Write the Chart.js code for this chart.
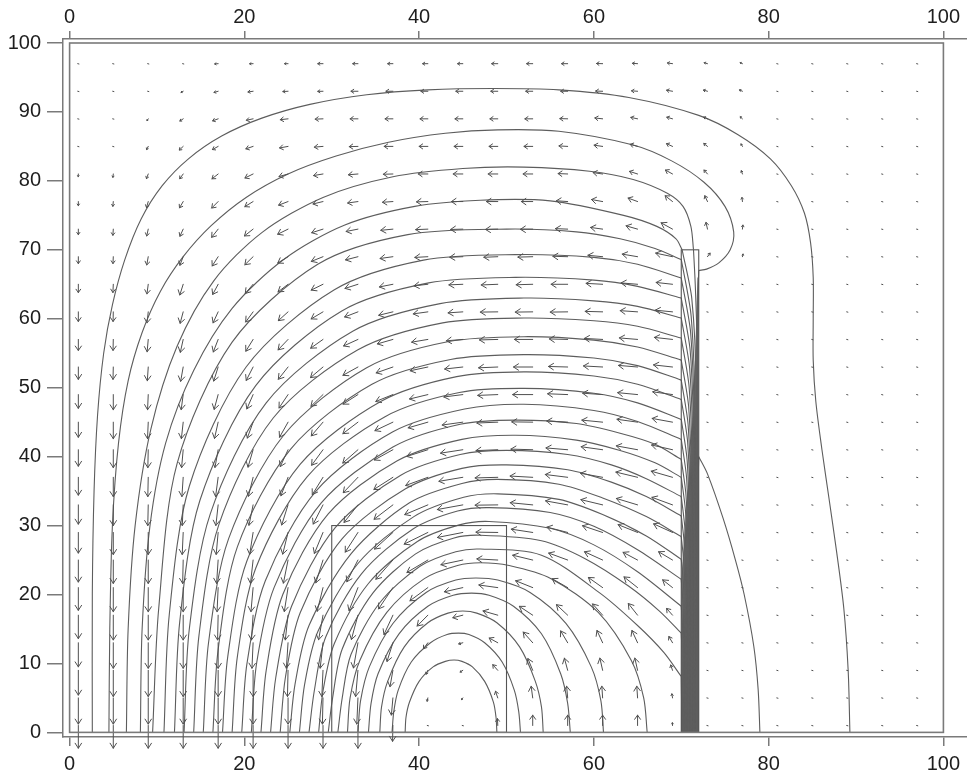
<!DOCTYPE html>
<html>
<head>
<meta charset="utf-8">
<title>Flux lines and field vectors</title>
<script src="https://cdn.jsdelivr.net/npm/chart.js@4/dist/chart.umd.min.js"></script>
<style>
  html, body { margin: 0; padding: 0; background: #ffffff; }
  #wrap { width: 967px; height: 775px; position: relative; }
</style>
</head>
<body>
<div id="wrap"><canvas id="c"></canvas></div>
<script>
// ---- axis ticks ----
const xTicks = [0, 20, 40, 60, 80, 100];
const yTicks = [0, 10, 20, 30, 40, 50, 60, 70, 80, 90, 100];

// ---- vector grid (tail positions) ----
const arrowCols = [1, 5, 9, 13, 17, 21, 25, 29, 33, 37, 41, 45, 49, 53, 57, 61, 65, 69, 73, 77, 81, 85, 89, 93, 97];
const arrowRows = [97, 93, 89, 85, 81, 77, 73, 69, 65, 61, 57, 53, 49, 45, 41, 37, 33, 29, 25, 21, 17, 13, 9, 5, 1];

// direction of each vector, degrees (0 = right, 90 = up), one row per arrowRows entry
const arrowAngle = [
  [250,250,250,200,185,182,180,180,180,180,180,180,180,180,180,178,175,170,160,150,120,100,90,90,90],
  [255,255,255,215,200,190,184,182,180,180,180,180,180,180,180,178,175,168,160,150,120,100,90,90,90],
  [265,255,240,220,205,195,188,183,180,180,180,180,180,180,178,172,165,160,150,130,110,100,90,90,90],
  [268,262,248,230,215,203,193,186,182,180,180,180,180,180,176,170,160,150,135,115,100,95,90,90,90],
  [268,265,253,240,225,212,200,192,186,182,180,180,180,180,177,170,158,145,125,105,95,92,90,90,90],
  [270,266,257,245,232,218,206,197,190,185,182,180,180,180,175,167,155,135,110,95,90,90,90,90,90],
  [270,267,260,250,238,225,212,202,194,187,183,182,182,181,177,170,160,145,100,85,85,90,90,90,90],
  [270,268,262,253,243,231,218,207,198,190,184,183,183,182,178,173,168,165,60,80,90,90,90,90,90],
  [270,268,264,256,247,236,224,212,202,194,188,183,183,182,180,176,174,172,80,85,90,90,90,90,90],
  [270,269,265,258,250,240,229,217,206,197,190,185,181,181,181,178,175,173,85,90,90,90,90,90,90],
  [270,269,266,260,253,244,233,222,210,200,192,186,182,180,178,176,174,172,85,90,90,90,90,90,90],
  [270,269,267,262,256,248,238,227,215,204,195,188,183,180,178,176,174,172,90,90,90,90,90,90,90],
  [270,270,268,264,258,251,242,231,219,207,197,189,183,180,177,175,173,170,90,90,90,90,90,90,90],
  [270,270,268,265,260,254,246,236,224,211,200,190,183,179,176,173,170,167,90,90,90,90,90,90,90],
  [270,270,269,266,262,257,250,240,228,215,202,191,183,178,174,170,167,164,90,90,90,90,90,90,90],
  [270,270,269,267,264,259,253,244,233,219,205,192,182,176,171,167,163,160,90,90,90,90,90,90,90],
  [270,270,269,268,265,261,256,248,238,224,208,193,181,173,167,163,159,155,90,90,90,90,90,90,90],
  [270,270,270,268,266,263,259,252,243,229,212,194,179,169,162,157,153,150,90,90,90,90,90,90,90],
  [270,270,270,269,267,265,261,256,248,235,217,195,176,163,155,150,146,143,90,90,90,90,90,90,90],
  [270,270,270,270,268,266,263,259,253,242,223,196,170,153,144,138,135,135,90,90,90,90,90,90,90],
  [270,270,270,270,269,267,265,262,258,250,232,198,160,140,130,125,122,125,90,90,90,90,90,90,90],
  [270,270,270,270,270,268,267,265,262,256,240,200,145,125,115,110,110,115,90,90,90,90,90,90,90],
  [270,270,270,270,270,270,269,268,266,262,250,220,125,108,102,100,100,105,90,90,90,90,90,90,90],
  [270,270,270,270,270,270,270,269,268,266,260,240,105,96,94,93,93,97,90,90,90,90,90,90,90],
  [270,270,270,270,270,270,270,270,270,269,266,260,92,90,90,90,90,92,90,90,90,90,90,90,90]
];

// length of each vector in axis units
const arrowLength = [
  [.1,.1,.1,.2,.4,.4,.4,.6,.6,.6,.6,.6,.7,.7,.7,.7,.6,.6,.4,.3,.15,.15,.15,.15,.15],
  [.15,.15,.15,.3,.5,.6,.6,.6,.8,.8,.8,.8,.8,.8,.8,.8,.7,.7,.5,.4,.15,.15,.15,.15,.15],
  [.15,.2,.3,.5,.7,.8,.9,.9,.9,.9,.9,.9,.9,.9,.9,.9,.8,.7,.5,.4,.3,.15,.15,.15,.15],
  [.3,.3,.5,.7,.8,.9,1,1,1,1,1,1,1,1,1,1,.9,.8,.6,.4,.3,.15,.15,.15,.15],
  [.4,.5,.7,.8,1,1.1,1.1,1.1,1.1,1.1,1.1,1.1,1.1,1.1,1.1,1.1,1,1,.7,.5,.3,.2,.15,.15,.15],
  [.6,.7,.9,1,1.2,1.2,1.2,1.2,1.2,1.2,1.3,1.3,1.3,1.3,1.3,1.3,1.2,1.2,.9,.6,.3,.15,.15,.15,.15],
  [.8,.9,1,1.1,1.4,1.4,1.4,1.4,1.4,1.4,1.4,1.4,1.4,1.4,1.4,1.4,1.4,1.6,1,.6,.3,.15,.15,.15,.15],
  [1,1,1.2,1.3,1.5,1.5,1.5,1.5,1.5,1.5,1.5,1.5,1.6,1.7,1.7,1.7,1.8,2,.6,.4,.25,.15,.15,.15,.15],
  [1.2,1.2,1.4,1.6,1.6,1.6,1.6,1.6,1.6,1.6,1.6,1.6,1.9,1.9,1.9,1.9,1.9,1.9,.3,.3,.15,.15,.15,.15,.15],
  [1.4,1.4,1.6,1.7,1.7,1.7,1.7,1.7,1.7,1.7,1.7,1.7,2,2,2,2,2,2,.15,.15,.15,.15,.15,.15,.15],
  [1.6,1.6,1.8,1.9,1.9,1.9,1.9,1.9,1.9,1.9,1.9,1.9,2.1,2.1,2.1,2.1,2.1,2.1,.15,.15,.15,.15,.15,.15,.15],
  [1.8,1.8,2,2.1,2.1,2.1,2.1,2.1,2.1,2.1,2.1,2.1,2.2,2.2,2.2,2.2,2.2,2.2,.15,.15,.15,.15,.15,.15,.15],
  [2,2.2,2.2,2.2,2.2,2.2,2.2,2.2,2.2,2.2,2.2,2.2,2.3,2.3,2.3,2.3,2.3,2.3,.15,.15,.15,.15,.15,.15,.15],
  [2.2,2.4,2.4,2.4,2.4,2.4,2.4,2.4,2.4,2.4,2.4,2.4,2.4,2.4,2.4,2.4,2.4,2.4,.15,.15,.15,.15,.15,.15,.15],
  [2.4,2.6,2.6,2.6,2.6,2.6,2.6,2.6,2.6,2.6,2.6,2.6,2.5,2.5,2.5,2.5,2.5,2.5,.15,.15,.15,.15,.15,.15,.15],
  [2.6,2.8,2.8,2.8,2.8,2.8,2.8,2.8,2.8,2.8,2.8,2.8,2.6,2.6,2.6,2.6,2.6,2.6,.15,.15,.15,.15,.15,.15,.15],
  [2.8,3,3,3,3,3,3,3,3,3,3,3,2.6,2.6,2.6,2.6,2.6,2.6,.15,.15,.15,.15,.15,.15,.15],
  [3,3.2,3.2,3.2,3.2,3.2,3.2,3.2,3.2,3.2,3.2,3,2.5,2.5,2.5,2.5,2.5,2.5,.15,.15,.15,.15,.15,.15,.15],
  [3.2,3.4,3.4,3.4,3.4,3.4,3.4,3.4,3.4,3.4,3,2.6,2.4,2.4,2.4,2.4,2,2,.15,.15,.15,.15,.15,.15,.15],
  [3.3,3.5,3.5,3.5,3.5,3.5,3.5,3.5,3.5,3.5,2.8,2.2,2.2,2.2,2.2,2.2,2.2,1.6,.15,.15,.15,.15,.15,.15,.15],
  [3.4,3.6,3.6,3.6,3.6,3.6,3.6,3.6,3.6,3,2,1.2,1.8,2,2,2,2,1.2,.15,.15,.15,.15,.15,.15,.15],
  [3.5,3.7,3.7,3.7,3.7,3.7,3.7,3.7,3.7,2.8,1,.5,1.2,1.9,1.9,1.9,1.9,1,.15,.15,.15,.15,.15,.15,.15],
  [3.6,3.8,3.8,3.8,3.8,3.8,3.8,3.8,3.8,2.4,.6,.4,1,1.8,1.8,1.8,1.8,.8,.15,.15,.15,.15,.15,.15,.15],
  [3.8,3.8,3.8,3.8,3.8,3.8,3.8,3.8,3.8,2.5,.5,.3,1,1.7,1.7,1.7,1.7,.6,.15,.15,.15,.15,.15,.15,.15],
  [3.3,3.3,3.3,3.3,3.3,3.3,3.3,3.3,3.3,2.3,.3,.3,1,1.5,1.5,1.5,1.5,.4,.15,.15,.15,.15,.15,.15,.15]
];

// ---- flux lines in the air, each a list of [x, y] points ----
const fluxLines = [
  [[2.6,0],[2.6,20],[2.8,35],[3.2,46],[3.9,55],[4.9,62],[6.3,68.5],[8.2,74.5],[10.6,79.3],[13.6,83.2],[17.4,86.5],[22,89.1],[27.5,91.1],[34,92.5],[41,93.2],[48.5,93.4],[56,93.2],[64,92.1],[72,89.5],[76.5,86.7],[80.2,83.2],[82.6,79.3],[84.1,75.3],[84.8,71],[85.1,66],[85.1,60],[85.1,54],[85.4,48],[86.1,41],[86.9,34],[87.8,26],[88.6,18],[89.1,9],[89.3,0]],
  [[4.5,0],[4.6,15],[4.9,30],[5.6,42],[6.7,51],[8.3,58],[10.4,64],[13.0,69],[16.2,73.5],[20.2,77.6],[25,81],[30.5,83.6],[36.5,85.6],[43,86.9],[49,87.4],[56,87.2],[64.5,85.2],[68.9,82.9],[72.6,79.8],[75.0,76.3],[76.0,72.6],[75.6,70.0],[74.3,68.1],[72.9,67.2],[72.0,67.0]],
  [[6.5,0],[6.7,15],[7.5,30],[9.3,44],[12.3,56],[16.5,65.5],[22,72.5],[29,77.6],[37,80.6],[45,81.8],[52,82.0],[59.5,81.4],[64.5,80.2],[68.4,78.2],[70.2,76.3],[71.1,73.4],[71.4,70.0]],
  [[8.1,0],[8.3,15],[9.2,30],[11.0,42],[14.2,52.5],[18.6,61.5],[24.5,68.6],[31.5,73.6],[39.5,76.3],[47,77.2],[55,77.1],[63.4,75.0],[67.2,73.4],[69.4,71.6],[70.1,70.0]],
  [[9.5,0],[10.2,18],[12.3,39.0],[18.6,56.6],[28.4,67.9],[38.7,72.2],[50,73.0],[58,72.6],[63,71.6],[67,70.2],[70,68.6]],
  [[10.8,0],[11.4,17],[13.7,35.7],[20.2,53.0],[30.3,64.2],[40.5,68.5],[51,69.3],[60,68.9],[65,67.9],[70,65.9]],
  [[12.0,0],[12.6,16],[14.9,33.6],[21.3,50.3],[31.1,61.1],[41.1,65.2],[51,66.0],[60,65.6],[65,64.7],[70,63.0]],
  [[13.1,0],[13.7,15],[16.1,31.7],[22.5,47.8],[32.4,58.2],[42.4,62.2],[52,63.0],[60,62.6],[65,61.8],[70,60.1]],
  [[14.2,0],[14.8,14],[17.1,30.2],[23.3,45.6],[33.0,55.5],[42.7,59.4],[52,60.1],[60,59.7],[65,58.9],[70,57.2]],
  [[15.3,0],[15.9,13],[18.2,28.1],[24.5,43.1],[34.0,52.9],[43.4,56.7],[52,57.4],[60,56.9],[65,55.9],[70,54.0]],
  [[16.4,0],[17.0,12],[19.2,26.9],[25.3,41.1],[34.6,50.5],[43.6,54.1],[52,54.8],[60,54.3],[65,53.2],[70,51.1]],
  [[17.5,0],[18.1,11],[20.3,24.9],[26.4,38.9],[35.6,48.0],[44.3,51.6],[52,52.3],[60,51.7],[65,50.5],[70,48.3]],
  [[18.6,0],[19.2,11],[21.3,23.8],[27.2,37.1],[36.1,45.8],[44.6,49.3],[52,49.9],[60,49.2],[65,47.8],[70,45.4]],
  [[19.7,0],[20.3,10],[22.4,22.0],[28.2,35.0],[37.0,43.6],[45.2,46.9],[52,47.6],[60,46.7],[65,45.1],[70,42.5]],
  [[20.8,0],[21.4,10],[23.4,21.0],[28.8,33.3],[37.0,41.4],[44.7,44.7],[51,45.3],[58,44.8],[63,43.4],[67,41.8],[70,39.6]],
  [[21.9,0],[22.5,9],[24.4,20.0],[29.6,31.7],[37.5,39.4],[44.9,42.5],[51,43.1],[58,42.4],[63,40.9],[67,39.1],[70,37.0]],
  [[23.0,0],[23.6,8],[25.4,18.3],[30.4,29.7],[37.9,37.3],[44.7,40.3],[50,40.9],[57,40.3],[62,38.8],[66,36.8],[70,34.2]],
  [[24.1,0],[24.7,8],[26.4,17.4],[31.2,28.1],[38.4,35.3],[44.9,38.3],[50,38.8],[57,38.1],[62,36.3],[66,34.2],[70,31.4]],
  [[25.2,0],[25.8,7],[27.4,15.5],[32.2,25.9],[38.9,33.3],[44.9,36.1],[49,36.7],[56,36.0],[61,34.0],[66,31.3],[70,28.4]],
  [[26.3,0],[26.9,7],[28.4,14.6],[33.0,24.5],[39.4,31.3],[45.1,34.1],[49,34.6],[56,33.8],[61,31.6],[66,28.5],[70,25.1]],
  [[27.4,0],[28.0,6],[29.3,13.8],[33.4,23.0],[39.3,29.5],[44.4,32.1],[48,32.6],[55,31.9],[60,29.9],[65,26.5],[70,22.2]],
  [[28.5,0],[29.0,6],[30.3,12.9],[34.2,21.6],[39.8,27.7],[44.6,30.1],[48,30.6],[55,29.6],[60,27.2],[65,23.3],[70,18.3]],
  [[29.6,0],[30.1,5],[31.2,12.1],[34.7,20.2],[39.6,25.9],[44.0,28.2],[47,28.6],[54,27.8],[59,25.2],[64,21.2],[67.5,17.6],[70,14.4]],
  [[30.7,0],[31.2,5],[32.2,11.3],[35.5,18.8],[40.1,24.1],[44.2,26.2],[47,26.6],[54,25.7],[60.7,20.2],[65,15.5],[68,11.6],[70,8.1]],
  [[31.8,0],[32.1,5],[33.2,10.4],[36.3,17.4],[40.6,22.3],[44.4,24.2],[47,24.6],[50.3,24.2],[55.1,22.3],[60.5,17.4],[64.3,10.4],[65.7,5],[66.1,0]],
  [[33.0,0],[33.3,4.6],[34.3,9.5],[37.0,15.8],[40.8,20.3],[44.2,22.1],[46.5,22.4],[49.0,22.1],[52.7,20.3],[56.8,15.8],[59.7,9.5],[60.8,4.6],[61.1,0]],
  [[34.2,0],[34.5,4.2],[35.3,8.5],[37.7,14.3],[41.0,18.3],[43.9,19.9],[46,20.2],[48.0,19.9],[50.8,18.3],[54.0,14.3],[56.2,8.5],[57.0,4.2],[57.3,0]],
  [[35.5,0],[35.7,3.7],[36.4,7.4],[38.3,12.4],[41.0,15.9],[43.3,17.3],[45,17.6],[46.6,17.3],[48.9,15.9],[51.5,12.4],[53.3,7.4],[54.0,3.7],[54.2,0]],
  [[36.9,0],[37.1,3],[37.6,6.1],[39.1,10.2],[41.3,13.0],[43.2,14.2],[44.5,14.4],[45.7,14.2],[47.5,13.0],[49.5,10.2],[50.9,6.1],[51.4,3],[51.6,0]],
  [[38.4,0],[38.5,2.2],[38.9,4.4],[40.0,7.4],[41.6,9.5],[43.0,10.3],[44,10.5],[44.9,10.3],[46.1,9.5],[47.5,7.4],[48.5,4.4],[48.8,2.2],[48.9,0]],
  [[79.0,0],[78.8,6.2],[78.3,12.5],[77.2,20],[76.2,25],[74.8,31.0],[73.0,37.5],[72.0,40.0]]
];

// ---- the same lines inside the steel plate ----
const plateLines = [
  [[72.0,67.0],[71.9,63],[71.87,57],[71.87,0]],
  [[71.4,70.0],[71.6,65],[71.79,57],[71.79,0]],
  [[70.1,70.0],[71.2,63],[71.7,50],[71.7,0]],
  [[70,68.6],[71.13,60.4],[71.62,44.0],[71.62,0]],
  [[70,65.9],[71.07,58.0],[71.53,42.1],[71.53,0]],
  [[70,63.0],[71.02,55.4],[71.45,40.1],[71.45,0]],
  [[70,60.1],[70.96,52.8],[71.37,38.1],[71.37,0]],
  [[70,57.2],[70.90,50.1],[71.29,36.0],[71.29,0]],
  [[70,54.0],[70.84,47.3],[71.20,33.8],[71.20,0]],
  [[70,51.1],[70.78,44.7],[71.12,31.8],[71.12,0]],
  [[70,48.3],[70.73,42.1],[71.04,29.8],[71.04,0]],
  [[70,45.4],[70.67,39.5],[70.95,27.8],[70.95,0]],
  [[70,42.5],[70.61,36.9],[70.87,25.7],[70.87,0]],
  [[70,39.6],[70.55,34.3],[70.79,23.7],[70.79,0]],
  [[70,37.0],[70.49,32.0],[70.70,21.9],[70.70,0]],
  [[70,34.2],[70.43,29.4],[70.62,19.9],[70.62,0]],
  [[70,31.4],[70.38,26.9],[70.54,18.0],[70.54,0]],
  [[70,28.4],[70.32,24.2],[70.46,15.9],[70.46,0]],
  [[70,25.1],[70.26,21.3],[70.37,13.6],[70.37,0]],
  [[70,22.2],[70.20,18.6],[70.29,11.5],[70.29,0]],
  [[70,18.3],[70.15,15.1],[70.21,8.8],[70.21,0]],
  [[70,14.4],[70.08,11.6],[70.12,6.1],[70.12,0]],
  [[70,8.1],[70.04,4],[70.04,0]],
  [[72.0,40.0],[71.95,37],[71.95,0]]
];

// ---- bodies ----
const magnetBox = [30, 0, 50, 30];          // x0, y0, x1, y1
const plateBox = [70, 0, 72, 70];           // x0, y0, x1, y1
const plateCore = [[72,66],[71.85,66],[71.6,55],[71.25,45],[70.8,36],[70.3,28],[70,22],[70,0],[72,0]];

// ---- build datasets ----
const lineColor = '#5d5d5d';
const toSet = (pts, tension) => ({
  data: pts.map(p => ({ x: p[0], y: p[1] })),
  showLine: true,
  borderColor: lineColor,
  borderWidth: 1.1,
  pointRadius: 0,
  pointHoverRadius: 0,
  tension: tension,
  fill: false
});
const datasets = fluxLines.map(pts => toSet(pts, 0.3))
  .concat(plateLines.map(pts => toSet(pts, 0.25)));

const gridPoints = [];
arrowRows.forEach(yv => arrowCols.forEach(xv => gridPoints.push({ x: xv, y: yv })));
datasets.push({
  data: gridPoints,
  showLine: false,
  pointRadius: 0,
  pointHoverRadius: 0,
  vectorGrid: true
});

const fieldPlugin = {
  id: 'fieldMarks',
  beforeDatasetsDraw(chart) {
    const { ctx, scales: { x, y } } = chart;
    ctx.save();
    ctx.beginPath();
    plateCore.forEach((p, i) => {
      const px = x.getPixelForValue(p[0]), py = y.getPixelForValue(p[1]);
      if (i) ctx.lineTo(px, py); else ctx.moveTo(px, py);
    });
    ctx.closePath();
    ctx.fillStyle = '#6f6f6f';
    ctx.fill();
    ctx.restore();
  },
  afterDatasetsDraw(chart) {
    const { ctx, scales: { x, y } } = chart;
    const idx = chart.data.datasets.findIndex(d => d.vectorGrid);
    const meta = chart.getDatasetMeta(idx);
    ctx.save();
    ctx.strokeStyle = '#4f4f4f';
    ctx.lineWidth = 1;
    ctx.lineCap = 'round';
    meta.data.forEach((el, k) => {
      const r = Math.floor(k / arrowCols.length), c = k % arrowCols.length;
      const a = arrowAngle[r][c] * Math.PI / 180, L = arrowLength[r][c];
      const p = gridPoints[k];
      const tx = el.x, ty = el.y;
      const hx = x.getPixelForValue(p.x + L * Math.cos(a));
      const hy = y.getPixelForValue(p.y + L * Math.sin(a));
      const dx = hx - tx, dy = hy - ty;
      const len = Math.hypot(dx, dy);
      ctx.beginPath();
      if (len < 2.2) {
        ctx.moveTo(tx - 0.6, ty);
        ctx.lineTo(tx + 0.6, ty + 0.3);
        ctx.stroke();
        return;
      }
      ctx.moveTo(tx, ty);
      ctx.lineTo(hx, hy);
      const ux = dx / len, uy = dy / len;
      const hl = Math.min(5, 0.4 * len), hw = Math.min(3.2, 0.28 * len);
      ctx.moveTo(hx - ux * hl + uy * hw, hy - uy * hl - ux * hw);
      ctx.lineTo(hx, hy);
      ctx.lineTo(hx - ux * hl - uy * hw, hy - uy * hl + ux * hw);
      ctx.stroke();
    });

    const rect = (b, color, w) => {
      const x0 = x.getPixelForValue(b[0]), y0 = y.getPixelForValue(b[1]);
      const x1 = x.getPixelForValue(b[2]), y1 = y.getPixelForValue(b[3]);
      ctx.strokeStyle = color;
      ctx.lineWidth = w;
      ctx.strokeRect(x0, y1, x1 - x0, y0 - y1);
    };
    rect(magnetBox, '#555555', 1.1);
    rect(plateBox, '#555555', 1.1);
    rect([0, 0, 100, 100], '#7a7a7a', 1.6);
    ctx.restore();
  }
};

const tickFont = { family: "'Liberation Sans', Arial, sans-serif", size: 20 };
const axisColor = '#7a7a7a';

new Chart(document.getElementById('c'), {
  type: 'scatter',
  data: { datasets },
  options: {
    responsive: true,
    maintainAspectRatio: false,
    animation: false,
    devicePixelRatio: 1,
    layout: { padding: 0 },
    plugins: { legend: { display: false }, tooltip: { enabled: false } },
    events: [],
    scales: {
      x: {
        type: 'linear', position: 'bottom', min: -0.755, max: 102.7,
        afterBuildTicks: s => { s.ticks = xTicks.map(v => ({ value: v })); },
        afterFit: s => { s.height = 38; },
        grid: { drawOnChartArea: false, drawTicks: true, tickLength: 9, color: axisColor, lineWidth: 1.5 },
        border: { display: true, color: axisColor, width: 1.5 },
        ticks: { font: tickFont, color: '#1e1e1e', padding: 6, autoSkip: false, maxRotation: 0, callback: v => String(v) }
      },
      x2: {
        type: 'linear', position: 'top', min: -0.755, max: 102.7,
        afterBuildTicks: s => { s.ticks = xTicks.map(v => ({ value: v })); },
        afterFit: s => { s.height = 39; },
        grid: { drawOnChartArea: false, drawTicks: true, tickLength: 8, color: axisColor, lineWidth: 1.5 },
        border: { display: true, color: axisColor, width: 1.5 },
        ticks: { font: tickFont, color: '#1e1e1e', padding: 2, autoSkip: false, maxRotation: 0, callback: v => String(v) }
      },
      y: {
        type: 'linear', position: 'left', min: -0.67, max: 100.58,
        afterBuildTicks: s => { s.ticks = yTicks.map(v => ({ value: v })); },
        afterFit: s => { s.width = 63; },
        grid: { drawOnChartArea: false, drawTicks: true, tickLength: 16, color: axisColor, lineWidth: 1.5 },
        border: { display: true, color: axisColor, width: 1.5 },
        ticks: { font: tickFont, color: '#1e1e1e', padding: 6, autoSkip: false, callback: v => String(v) }
      }
    }
  },
  plugins: [fieldPlugin]
});
</script>
</body>
</html>
